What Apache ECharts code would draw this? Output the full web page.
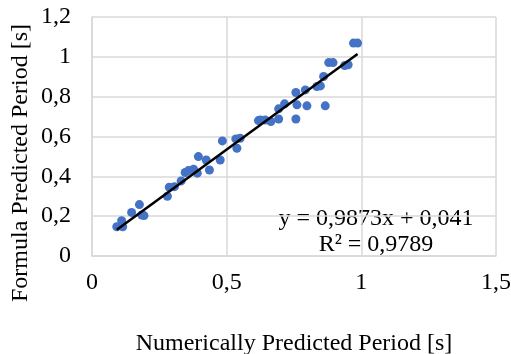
<!DOCTYPE html>
<html>
<head>
<meta charset="utf-8">
<script src="https://cdn.jsdelivr.net/npm/echarts@6/dist/echarts.min.js"></script>
<style>
  html, body { margin: 0; padding: 0; background: #fff; }
  #chart { width: 511px; height: 354px; }
</style>
</head>
<body>
<div id="chart"></div>
<script>
// numerically predicted period [s]
const numPeriod = [
    0.092, 0.114, 0.110, 0.147, 0.176, 0.185, 0.193, 0.280, 0.287, 0.306,
    0.331, 0.346, 0.358, 0.377, 0.395, 0.391, 0.424, 0.436, 0.476, 0.484,
    0.534, 0.550, 0.538, 0.618, 0.625, 0.643, 0.664, 0.693, 0.693, 0.715,
    0.757, 0.761, 0.757, 0.792, 0.798, 0.835, 0.848, 0.866, 0.860, 0.879,
    0.895, 0.938, 0.951, 0.971, 0.986
];
// formula predicted period [s]
const formulaPeriod = [
    0.147, 0.147, 0.177, 0.219, 0.258, 0.206, 0.203, 0.300, 0.345, 0.348,
    0.377, 0.419, 0.429, 0.436, 0.499, 0.416, 0.482, 0.432, 0.482, 0.578,
    0.588, 0.591, 0.541, 0.680, 0.683, 0.683, 0.675, 0.688, 0.739, 0.764,
    0.688, 0.759, 0.821, 0.834, 0.754, 0.851, 0.854, 0.754, 0.901, 0.971,
    0.971, 0.956, 0.960, 1.069, 1.069
];
const slope = 0.9873;
const intercept = 0.041;
const rSquared = 0.9789;

const xTitle = "Numerically Predicted Period [s]";
const yTitle = "Formula Predicted Period [s]";

const comma = (v) => String(v).replace(".", ",");

const points = numPeriod.map((x, i) => [x, formulaPeriod[i]]);
const xMin = Math.min(...numPeriod);
const xMax = Math.max(...numPeriod);
const trend = [xMin, xMax].map((x) => [x, slope * x + intercept]);

const font = "'Liberation Serif', 'Times New Roman', serif";
const fontSize = 24;
const gridColor = "#d9d9d9";

const chart = echarts.init(document.getElementById("chart"), null, { renderer: "canvas" });

chart.setOption({
    animation: false,
    grid: { left: 92, right: 15, top: 17, bottom: 98, outerBoundsMode: "none", containLabel: false },
    xAxis: {
        type: "value",
        min: 0,
        max: 1.5,
        interval: 0.5,
        name: xTitle,
        nameLocation: "middle",
        nameGap: 76,
        nameTextStyle: { fontFamily: font, fontSize: fontSize, color: "#000" },
        axisLine: { show: true, lineStyle: { color: gridColor, width: 1.5 } },
        axisTick: { show: false },
        splitLine: { show: true, lineStyle: { color: gridColor, width: 1.5 } },
        axisLabel: {
            fontFamily: font, fontSize: fontSize, color: "#000", margin: 15,
            formatter: comma
        }
    },
    yAxis: {
        type: "value",
        min: 0,
        max: 1.2,
        interval: 0.2,
        axisLine: { show: true, lineStyle: { color: gridColor, width: 1.5 } },
        axisTick: { show: false },
        splitLine: { show: true, lineStyle: { color: gridColor, width: 1.5 } },
        axisLabel: {
            fontFamily: font, fontSize: fontSize, color: "#000", margin: 21,
            formatter: comma
        }
    },
    series: [
        {
            type: "scatter",
            data: points,
            symbolSize: 9,
            itemStyle: { color: "#4472c4", opacity: 1 }
        },
        {
            type: "line",
            data: trend,
            symbol: "none",
            lineStyle: { color: "#000", width: 2.5 },
            z: 3
        }
    ],
    graphic: [
        {
            // y axis title, Excel placed it a bit below the plot middle
            type: "text",
            x: 21, y: 163,
            rotation: Math.PI / 2,
            style: {
                text: yTitle,
                fontFamily: font, fontSize: fontSize, fill: "#000",
                align: "center", verticalAlign: "middle"
            }
        },
        {
            type: "text",
            x: 376, y: 219,
            style: {
                text: "y = " + comma(slope) + "x + " + comma(intercept),
                fontFamily: font, fontSize: fontSize, fill: "#000",
                align: "center", verticalAlign: "middle"
            }
        },
        {
            type: "text",
            x: 376, y: 245,
            style: {
                text: "R² = " + comma(rSquared),
                fontFamily: font, fontSize: fontSize, fill: "#000",
                align: "center", verticalAlign: "middle"
            }
        }
    ]
});
</script>
</body>
</html>
